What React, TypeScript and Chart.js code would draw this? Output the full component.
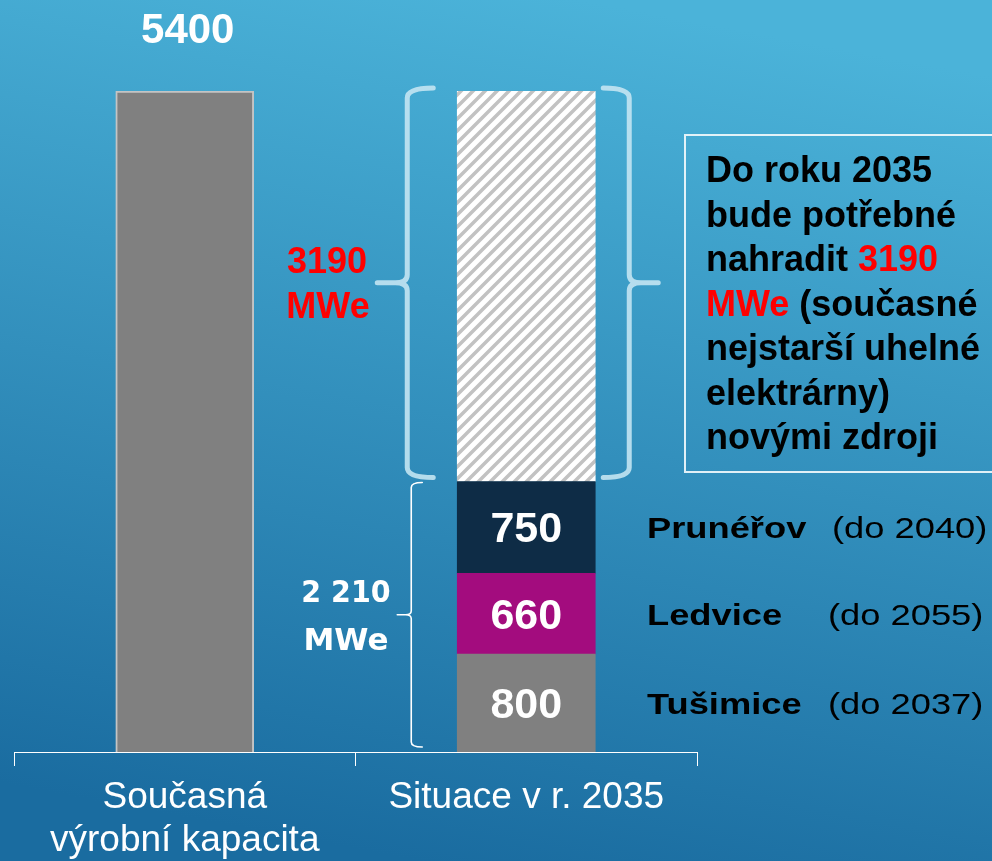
import React, { useEffect, useRef } from "react";
import { Chart, registerables } from "chart.js";

Chart.register(...registerables);

const categories: (string | string[])[] = [["Současná", "výrobní kapacita"], "Situace v r. 2035"];
const currentCapacity = [5400, null];
const tusimice = [null, 800];
const ledvice = [null, 660];
const prunerov = [null, 750];
const toReplace = [null, 3190];
const plantNames = ["Tušimice", "Ledvice", "Prunéřov"];
const plantDeadlines = ["(do 2037)", "(do 2055)", "(do 2040)"];
const keptTotalLabel = ["2 210", "MWe"];
const replaceLabel = ["3190", "MWe"];
const totalLabel = "5400";

const SANS = "'Liberation Sans', Arial, sans-serif";

function makeHatch(): CanvasPattern | string {
  const c = document.createElement("canvas");
  c.width = 12;
  c.height = 12;
  const g = c.getContext("2d");
  if (!g) return "#ddd";
  g.fillStyle = "#ffffff";
  g.fillRect(0, 0, 12, 12);
  g.strokeStyle = "#c2c2c2";
  g.lineWidth = 3.5;
  g.beginPath();
  g.moveTo(-6, 6); g.lineTo(6, -6);
  g.moveTo(0, 12); g.lineTo(12, 0);
  g.moveTo(6, 18); g.lineTo(18, 6);
  g.stroke();
  const p = g.createPattern(c, "repeat");
  return p || "#ddd";
}

function brace(ctx: CanvasRenderingContext2D, vx: number, hookX: number, tipX: number, top: number, bottom: number, tip: number, r: number) {
  ctx.beginPath();
  ctx.moveTo(hookX, top);
  ctx.quadraticCurveTo(vx, top, vx, top + r);
  ctx.lineTo(vx, tip - r * 0.8);
  ctx.quadraticCurveTo(vx, tip, tipX + (vx - tipX) * 0.6, tip);
  ctx.lineTo(tipX, tip);
  ctx.moveTo(tipX + (vx - tipX) * 0.6, tip);
  ctx.quadraticCurveTo(vx, tip, vx, tip + r * 0.8);
  ctx.lineTo(vx, bottom - r);
  ctx.quadraticCurveTo(vx, bottom, hookX, bottom);
  ctx.stroke();
}

function scaledText(ctx: CanvasRenderingContext2D, text: string, x: number, y: number, sx: number) {
  ctx.save();
  ctx.translate(x, y);
  ctx.scale(sx, 1);
  ctx.fillText(text, 0, 0);
  ctx.restore();
  return ctx.measureText(text).width * sx;
}

const backgroundPlugin = {
  id: "bg",
  beforeDraw(chart: any) {
    const { ctx, width, height } = chart;
    const g = ctx.createLinearGradient(580, 0, 420, height);
    g.addColorStop(0, "#4bb3d9");
    g.addColorStop(1, "#1a6ca0");
    ctx.save();
    ctx.fillStyle = g;
    ctx.fillRect(0, 0, width, height);
    ctx.restore();
  },
};

const annotationPlugin = {
  id: "annot",
  afterDatasetsDraw(chart: any) {
    const ctx: CanvasRenderingContext2D = chart.ctx;
    const left = chart.getDatasetMeta(0).data[0];
    const segT = chart.getDatasetMeta(1).data[1];
    const segL = chart.getDatasetMeta(2).data[1];
    const segP = chart.getDatasetMeta(3).data[1];
    const segR = chart.getDatasetMeta(4).data[1];
    ctx.save();

    // total label above left bar
    ctx.fillStyle = "#ffffff";
    ctx.textAlign = "center";
    ctx.textBaseline = "alphabetic";
    ctx.font = `bold 42px ${SANS}`;
    ctx.fillText(totalLabel, left.x + 3, left.y - 48);

    // values inside segments
    ctx.font = `bold 43px ${SANS}`;
    const segs = [segT, segL, segP];
    const vals = [tusimice[1], ledvice[1], prunerov[1]];
    segs.forEach((s: any, i: number) => {
      const cy = (s.y + s.base) / 2;
      ctx.fillText(String(vals[i]), s.x, cy + 15);
    });

    // braces
    const bl = segR.x - segR.width / 2;
    const br = segR.x + segR.width / 2;
    ctx.lineCap = "round";
    ctx.strokeStyle = "rgba(195,228,242,0.9)";
    ctx.lineWidth = 5;
    const bTop = segR.y - 3;
    const bBot = segR.base - 4;
    const bTip = (bTop + bBot) / 2;
    brace(ctx, bl - 50, bl - 24, bl - 80, bTop, bBot, bTip, 10);
    brace(ctx, br + 34, br + 8, br + 63, bTop, bBot, bTip, 10);

    ctx.strokeStyle = "#ffffff";
    ctx.lineWidth = 1.6;
    const sTop = segP.y + 1;
    const sBot = segT.base - 5;
    const sTip = (sTop + sBot) / 2;
    brace(ctx, bl - 46, bl - 35, bl - 60, sTop, sBot, sTip, 5);

    // 3190 MWe
    ctx.fillStyle = "#ff0000";
    ctx.font = `bold 36px ${SANS}`;
    ctx.textAlign = "center";
    ctx.fillText(replaceLabel[0], 327, bTip - 10);
    ctx.fillText(replaceLabel[1], 328, bTip + 35);

    // 2 210 MWe
    ctx.fillStyle = "#ffffff";
    ctx.font = `bold 31px 'DejaVu Sans', sans-serif`;
    ctx.save();
    ctx.translate(346, sTip - 13);
    ctx.scale(0.92, 1);
    ctx.fillText(keptTotalLabel[0], 0, 0);
    ctx.restore();
    ctx.fillText(keptTotalLabel[1], 346, sTip + 35);

    // plant labels
    ctx.textAlign = "left";
    ctx.fillStyle = "#000000";
    const nameX = 647;
    const dlX = [828, 828, 832];
    segs.forEach((s: any, i: number) => {
      const base = (s.y + s.base) / 2 + 11;
      ctx.font = `bold 30px ${SANS}`;
      scaledText(ctx, plantNames[i], nameX, base, 1.21);
      ctx.font = `30px ${SANS}`;
      scaledText(ctx, plantDeadlines[i], dlX[i], base, 1.21);
    });

    // text box
    ctx.strokeStyle = "rgba(235,245,250,0.95)";
    ctx.lineWidth = 2;
    ctx.strokeRect(685, 135, 330, 337);

    const lines: [string, string][][] = [
      [["Do roku 2035", "#000"]],
      [["bude potřebné", "#000"]],
      [["nahradit ", "#000"], [replaceLabel[0], "#ff0000"]],
      [[replaceLabel[1], "#ff0000"], [" (současné", "#000"]],
      [["nejstarší uhelné", "#000"]],
      [["elektrárny)", "#000"]],
      [["novými zdroji", "#000"]],
    ];
    ctx.font = `bold 36px ${SANS}`;
    lines.forEach((parts, li) => {
      let x = 706;
      const y = 182 + li * 44.5;
      parts.forEach(([t, c]) => {
        ctx.fillStyle = c;
        ctx.fillText(t, x, y);
        x += ctx.measureText(t).width;
      });
    });

    ctx.restore();
  },
};

export default function App() {
  const ref = useRef<HTMLCanvasElement | null>(null);
  useEffect(() => {
    document.body.style.margin = "0";
    if (!ref.current) return;
    const hatch = makeHatch();
    const chart = new Chart(ref.current, {
      type: "bar",
      data: {
        labels: categories as any,
        datasets: [
          { label: "Současná kapacita", data: currentCapacity as any, backgroundColor: "#808080", borderColor: "#c4c4c4", borderWidth: 2, stack: "s" },
          { label: plantNames[0], data: tusimice as any, backgroundColor: "#808080", borderWidth: 0, stack: "s" },
          { label: plantNames[1], data: ledvice as any, backgroundColor: "#a30c7e", borderWidth: 0, stack: "s" },
          { label: plantNames[2], data: prunerov as any, backgroundColor: "#0e2c46", borderWidth: 0, stack: "s" },
          { label: "Nahradit", data: toReplace as any, backgroundColor: hatch as any, borderWidth: 0, stack: "s" },
        ],
      },
      options: {
        responsive: false,
        animation: false,
        maintainAspectRatio: false,
        layout: { padding: { left: 14, right: 295, top: 91, bottom: 0 } },
        datasets: { bar: { barThickness: 138 } } as any,
        plugins: { legend: { display: false }, tooltip: { enabled: false } },
        scales: {
          x: {
            stacked: true,
            grid: { display: true, drawOnChartArea: false, drawTicks: true, tickLength: 14, color: "#ffffff", lineWidth: 1, offset: true },
            border: { display: true, color: "#ffffff", width: 1 },
            ticks: { color: "#ffffff", font: { family: SANS, size: 37, lineHeight: 1.17 }, padding: 10, maxRotation: 0, autoSkip: false },
            afterFit: (s: any) => { s.height = 109; },
          },
          y: { stacked: true, display: false, min: 0, max: 5400 },
        },
      },
      plugins: [backgroundPlugin, annotationPlugin],
    });
    return () => chart.destroy();
  }, []);
  return <canvas ref={ref} width={992} height={861} style={{ display: "block" }} />;
}
